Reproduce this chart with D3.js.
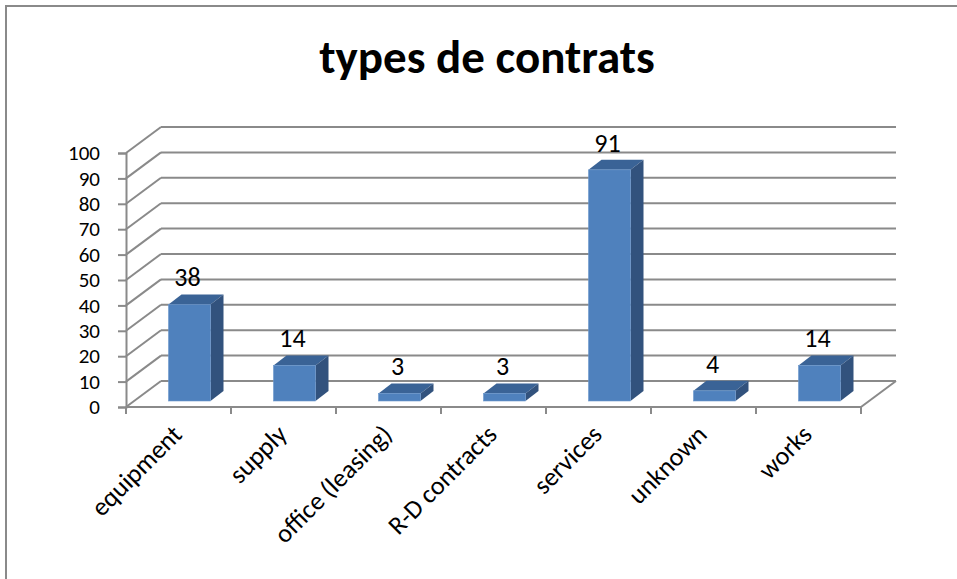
<!DOCTYPE html>
<html lang="fr">
  <head>
    <meta charset="utf-8">
    <title>types de contrats</title>
    <script src="https://cdn.jsdelivr.net/npm/d3@7"></script>
    <style>
      body { margin: 0; background: #fff; }
      text { font-family: Carlito, Lato, "Open Sans", sans-serif; fill: #000; }
    </style>
  </head>
  <body>
    <script>

      var categories = ["equipment", "supply", "office (leasing)", "R-D contracts", "services", "unknown", "works"]
      var values = [38, 14, 3, 3, 91, 4, 14]
      var yTicks = [0, 10, 20, 30, 40, 50, 60, 70, 80, 90, 100]
      var title = "types de contrats"

      var W = 957, H = 579
      // oblique offset of the back wall, and of a bar's depth
      var wallDx = 35, wallDy = -26
      var barDx = 13, barDy = -10
      var shiftDx = 11, shiftDy = -6

      var svg = d3.select("body").append("svg")
                  .attr("width", W)
                  .attr("height", H);

      // frame (only top and left edges show)
      svg.append("path")
         .attr("d", "M6,579 V6 H957")
         .attr("fill", "none")
         .attr("stroke", "#8a8a8a")
         .attr("stroke-width", 2);

      svg.append("text")
         .attr("x", 487)
         .attr("y", 73)
         .attr("text-anchor", "middle")
         .style("font-size", "47px")
         .style("font-weight", "bold")
         .text(title);

      var x = d3.scaleBand().domain(categories).range([126, 861]).paddingInner(0).paddingOuter(0);
      var y = d3.scaleLinear().domain([0, 100]).range([407, 153]);

      var grid = "#8a8a8a";
      var g = svg.append("g");

      // back wall gridlines + side wall diagonals
      yTicks.forEach(function(t) {
        g.append("line")
         .attr("x1", 126 + wallDx).attr("x2", 861 + wallDx)
         .attr("y1", y(t) + wallDy).attr("y2", y(t) + wallDy)
         .attr("stroke", grid).attr("stroke-width", 2);
        g.append("line")
         .attr("x1", 126).attr("x2", 126 + wallDx)
         .attr("y1", y(t)).attr("y2", y(t) + wallDy)
         .attr("stroke", grid).attr("stroke-width", 2);
      });

      // floor right edge
      g.append("line")
       .attr("x1", 861).attr("y1", y(0))
       .attr("x2", 861 + wallDx).attr("y2", y(0) + wallDy)
       .attr("stroke", grid).attr("stroke-width", 2);

      // y axis
      var yAxis = d3.axisLeft(y).tickValues(yTicks).tickSize(8).tickPadding(4);
      var ya = svg.append("g").attr("transform", "translate(126,0)").call(yAxis);
      ya.select(".domain").attr("stroke", grid).attr("stroke-width", 2);
      ya.selectAll(".tick line").attr("stroke", grid).attr("stroke-width", 2);
      ya.selectAll(".tick text")
        .attr("x", -26)
        .style("font-size", "21px")
        .style("font-family", "Carlito, Lato, 'Open Sans', sans-serif");

      // x axis line + ticks at category boundaries
      svg.append("line")
         .attr("x1", 126).attr("x2", 861)
         .attr("y1", y(0)).attr("y2", y(0))
         .attr("stroke", grid).attr("stroke-width", 2);
      var bounds = categories.map(function(c) { return x(c); }).concat([861]);
      svg.selectAll(".xtick").data(bounds).enter().append("line")
         .attr("x1", function(d) { return d; }).attr("x2", function(d) { return d; })
         .attr("y1", y(0)).attr("y2", y(0) + 7)
         .attr("stroke", grid).attr("stroke-width", 2);

      // bars
      var bw = x.bandwidth() * 0.4;
      var bars = svg.selectAll(".bar").data(values).enter().append("g");

      function fx(d, i) { return x(categories[i]) + x.bandwidth() / 2 + shiftDx - bw / 2; }
      function barTop(d) { return y(d) + shiftDy; }
      var base = y(0) + shiftDy;

      bars.append("path")
          .attr("fill", "#3a6396")
          .attr("d", function(d, i) {
            var x0 = fx(d, i), t = barTop(d);
            return "M" + x0 + "," + t + " L" + (x0 + barDx) + "," + (t + barDy) +
                   " L" + (x0 + bw + barDx) + "," + (t + barDy) + " L" + (x0 + bw) + "," + t + "Z";
          });
      bars.append("path")
          .attr("fill", "#32527d")
          .attr("d", function(d, i) {
            var x1 = fx(d, i) + bw, t = barTop(d);
            return "M" + x1 + "," + t + " L" + (x1 + barDx) + "," + (t + barDy) +
                   " L" + (x1 + barDx) + "," + (base + barDy) + " L" + x1 + "," + base + "Z";
          });
      bars.append("rect")
          .attr("x", fx)
          .attr("y", function(d) { return barTop(d); })
          .attr("width", bw)
          .attr("height", function(d) { return base - barTop(d); })
          .attr("fill", "#4f81bd")
          .attr("stroke", "#6b97cc")
          .attr("stroke-width", 0.6);

      // value labels
      bars.append("text")
          .attr("x", function(d, i) { return fx(d, i) + bw / 2 - 2; })
          .attr("y", function(d) { return barTop(d) + barDy - 8; })
          .attr("text-anchor", "middle")
          .style("font-size", "26px")
          .text(function(d) { return d; });

      // category labels
      svg.selectAll(".xlab").data(categories).enter().append("text")
         .attr("text-anchor", "end")
         .attr("transform", function(d) {
           return "translate(" + (x(d) + x.bandwidth() / 2 + 5) + "," + 436 + ") rotate(-45)";
         })
         .style("font-size", "26px")
         .text(function(d) { return d; });

    </script>
  </body>
</html>
